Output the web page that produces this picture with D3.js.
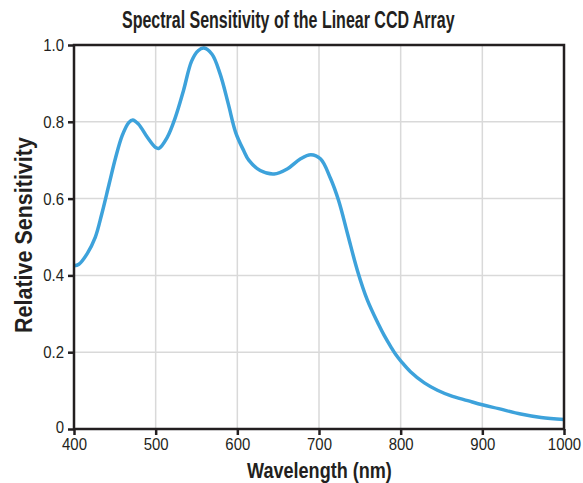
<!DOCTYPE html>
<html>
<head>
<meta charset="utf-8">
<script src="https://cdn.jsdelivr.net/npm/d3@7"></script>
<style>
  body { margin: 0; background: #fff; }
  text { font-family: "Liberation Sans", Arial, sans-serif; fill: #231f20; }
</style>
</head>
<body>
<div id="chart"></div>
<script>
// wavelength (nm) and relative sensitivity
const wavelength = [400, 406, 416, 426, 434, 443, 451, 459, 467, 472, 479, 490, 500, 504, 514, 524, 534, 544, 552, 559, 569, 579, 589, 598, 608, 614, 628, 645, 661, 677, 690, 702, 714, 724, 735, 747, 759, 773, 780, 788, 794, 801, 812, 829, 845, 861, 882, 900, 920, 947, 972, 1000];
const sensitivity = [0.425, 0.429, 0.456, 0.499, 0.560, 0.638, 0.707, 0.764, 0.798, 0.805, 0.794, 0.759, 0.733, 0.731, 0.759, 0.811, 0.881, 0.958, 0.985, 0.992, 0.976, 0.924, 0.846, 0.772, 0.724, 0.700, 0.673, 0.664, 0.677, 0.703, 0.714, 0.703, 0.653, 0.595, 0.508, 0.413, 0.337, 0.272, 0.243, 0.214, 0.194, 0.175, 0.149, 0.120, 0.101, 0.087, 0.074, 0.063, 0.053, 0.039, 0.030, 0.025];
const xTicks = [400, 500, 600, 700, 800, 900, 1000];
const yTicks = [0, 0.2, 0.4, 0.6, 0.8, 1.0];

const width = 583, height = 483;
const margin = { top: 45, right: 19, bottom: 54, left: 74 };
const w = width - margin.left - margin.right;
const h = height - margin.top - margin.bottom;

const svg = d3.select("#chart").append("svg")
  .attr("width", width)
  .attr("height", height);

const g = svg.append("g")
  .attr("transform", `translate(${margin.left}, ${margin.top})`);

const x = d3.scaleLinear().domain([400, 1000]).range([0, w]);
const y = d3.scaleLinear().domain([0, 1]).range([h, 0]);

// grid
g.append("g").selectAll("line")
  .data(xTicks.slice(1, -1))
  .join("line")
  .attr("x1", d => x(d)).attr("x2", d => x(d))
  .attr("y1", 0).attr("y2", h)
  .attr("stroke", "#d9d9d9").attr("stroke-width", 1.5);
g.append("g").selectAll("line")
  .data(yTicks.slice(1, -1))
  .join("line")
  .attr("y1", d => y(d)).attr("y2", d => y(d))
  .attr("x1", 0).attr("x2", w)
  .attr("stroke", "#d9d9d9").attr("stroke-width", 1.5);

// curve
const data = wavelength.map((d, i) => ({ wl: d, s: sensitivity[i] }));
g.append("path")
  .datum(data)
  .attr("fill", "none")
  .attr("stroke", "#3da2db")
  .attr("stroke-width", 3.5)
  .attr("stroke-linejoin", "round")
  .attr("d", d3.line().x(d => x(d.wl)).y(d => y(d.s)).curve(d3.curveCatmullRom.alpha(0.5)));

// frame
g.append("rect")
  .attr("width", w).attr("height", h)
  .attr("fill", "none").attr("stroke", "#231f20").attr("stroke-width", 2.5);

// axes
const xAxis = g.append("g")
  .attr("transform", `translate(0, ${h})`)
  .call(d3.axisBottom(x).tickValues(xTicks).tickSize(6).tickPadding(3).tickFormat(d3.format("d")));
const yAxis = g.append("g")
  .call(d3.axisLeft(y).tickValues(yTicks).tickSize(6).tickPadding(4).tickFormat(d => d === 0 ? "0" : d3.format(".1f")(d)));

const sx = 0.88; // condensed look
[xAxis, yAxis].forEach(a => {
  a.select(".domain").remove();
  a.selectAll(".tick line").attr("stroke", "#231f20").attr("stroke-width", 2.5);
  a.selectAll(".tick text").attr("font-size", 17).attr("fill", "#231f20")
    .style("font-family", '"Liberation Sans", Arial, sans-serif');
});
xAxis.selectAll(".tick text").attr("transform", `scale(${sx},1)`);
yAxis.selectAll(".tick text")
  .attr("x", -10 / sx)
  .attr("transform", `scale(${sx},1)`);
// the "0" sits a little above the x labels
yAxis.selectAll(".tick text").filter(d => d === 0).attr("dy", "0.2em");

// bold condensed label squeezed to a target width
function label(txt, size, tx, ty, target, rot) {
  const t = svg.append("text")
    .attr("font-size", size).attr("font-weight", "bold")
    .text(txt);
  const len = t.node().getComputedTextLength();
  t.attr("transform", `translate(${tx}, ${ty})${rot ? " rotate(-90)" : ""} scale(${target / len},1)`);
  return t;
}

label("Spectral Sensitivity of the Linear CCD Array", 24, 122, 28, 333, false);
label("Wavelength (nm)", 23, 247, 478, 145, false);
label("Relative Sensitivity", 23, 32, 333, 196, true);
</script>
</body>
</html>
